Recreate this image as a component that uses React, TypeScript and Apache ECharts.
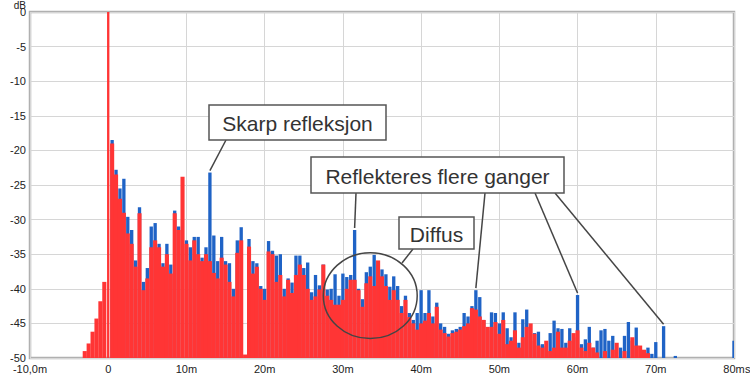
import React, { useEffect, useRef } from "react";
import * as echarts from "echarts";

// Time grid of the impulse response samples (ms)
const TIME_START_MS = -3.5;
const TIME_STEP_MS = 0.5;

// Red trace (dB), one value per TIME_STEP_MS from TIME_START_MS
const redDb: (number | null)[] = [
  null, -49, -47.9, -46.2, -44.3, -41.8, -39, 0, -19, -23.5,
  -27, -29, -32, -33.5, -36.8, -29.1, -40.2, -38.5, -34, -33,
  -34, -36.8, -35, -37.8, -29.1, -31.5, -23.8, -33.5, -35.9, -33,
  -35, -36, -35, -36, -37.7, -38.5, -35.5, -36.5, -39, -41.1,
  -34.8, -33, -49.5, -33.9, -37.8, -36.8, -40, -41.6, -34.6, -35,
  -39, -38, -41.1, -38.7, -40.6, -38, -36.5, -38, -40, -41.6,
  -41.1, -40.1, -36.5, -41, -41.6, -42.3, -42.3, -41.6, -40, -38.7,
  -38.7, -40.2, -42.6, -39.2, -38.2, -39.6, -35.9, -38.2, -39.6, -41.6,
  -40.2, -41.6, -43.5, -41.6, -44.1, -45, -45.9, -45, -44.6, -43.5,
  -45, -42.6, -45.9, -46.4, -46.9, -46.4, -46.2, -45.9, -45.4, -45,
  -42.8, -43, -44, -44.5, -45.5, -45.5, -44.8, -46.5, -44.5, -48,
  -47.5, -46, -48.5, -47, -45.5, -45, -46.5, -48.2, -48.5, -47.5,
  -49, -48.5, -46.2, -48.5, -48.5, -47.5, -46.4, -46, -48.5, -49,
  -47.8, -48.5, -49.2, null, -49, null, -48.8, -47.8, null, -49,
  null, -47, -48.2, -48.2, -48.8, -49.3, null,
];

// Blue trace (dB), same time grid
const blueDb: (number | null)[] = [
  null, null, null, null, null, null, null, null, -18.5, -22.8,
  -25.5, -24.1, -29.6, -31.5, -35.9, -28.2, -39, -37, -31, -30.5,
  -33.5, -36.3, -33.5, -36.5, -28.7, -31, null, -33, -34, -32.5,
  -32.5, -35.5, -34, -23.2, -32.3, -36, -32.5, -36, -36.3, -40,
  -33, -31.1, null, -32.8, -36, -36.3, -39.6, -40, -33.1, -34.5,
  -35.2, -35, -40, -38.5, -39.1, -35.2, -35.2, -37, -36.2, -40.5,
  -38, -39.5, -36.5, -40.1, -40, -37.9, -41, -37.8, -38.3, -38,
  -31.5, -40, -41.5, -37.6, -36.8, -35.1, -36.5, -37.2, -37.9, -39.7,
  -38.2, -39.6, -42.5, -41, -43.5, -44.5, -43.5, -40.2, -43.5, -40.2,
  -44, -42, -45, -45.5, -46.5, -46, -45.8, -45.5, -43.5, -44,
  -42.5, -40.2, -41.2, -44.5, -46, -43.4, -43.5, -45, -43.4, -45.7,
  -47, -43.4, -47.8, -44.4, -43, -47.5, -46.4, -46.2, -48, -48.3,
  -46.4, -44.6, -45.7, -45.8, -47.8, -45.7, -47, -40.9, -48, -47.3,
  -45.5, -48.5, -47.5, -46, -45.8, -47.5, -46.8, null, -48.5, -46.8,
  -44.8, -47.5, -45.6, null, -49, -48.5, -49.4, -47.7, null, -45.4,
  null, null, -49.7, null, null, null, null, null, null, null,
  null, null, null, null, null, null, null, -47.5,
];

const xTicksMs = [-10, 0, 10, 20, 30, 40, 50, 60, 70, 80];
const yTicksDb = [-50, -45, -40, -35, -30, -25, -20, -15, -10, -5, 0];
const xUnit = "s";
const yUnit = "dB";

const RED = "#ff3535";
const BLUE = "#1f63c6";
const FONT = "'Liberation Sans', Arial, sans-serif";

function toPairs(vals: (number | null)[]) {
  const out: [number, number][] = [];
  vals.forEach((v, i) => {
    if (v !== null) out.push([TIME_START_MS + i * TIME_STEP_MS, v]);
  });
  return out;
}

function barSeries(name: string, vals: (number | null)[], color: string, wf: number, z: number) {
  return {
    type: "custom",
    name,
    z,
    clip: true,
    data: toPairs(vals),
    encode: { x: 0, y: 1 },
    renderItem: (params: any, api: any) => {
      const t = api.value(0);
      const v = api.value(1);
      const top = api.coord([t, v]);
      const base = api.coord([t, yTicksDb[0]]);
      // the direct-sound peak is a single narrow spike
      const w = api.size([TIME_STEP_MS, 0])[0] * (v > -5 ? 0.6 : wf);
      return {
        type: "rect",
        shape: { x: top[0] - w / 2, y: top[1], width: w, height: base[1] - top[1] },
        style: { fill: color },
      };
    },
  };
}

export default function App() {
  const ref = useRef<HTMLDivElement>(null);
  useEffect(() => {
    const chart = echarts.init(ref.current!, null, { renderer: "svg" });
    chart.setOption({
      animation: false,
      backgroundColor: "#ffffff",
      grid: {
        left: 30,
        right: 16,
        top: 12,
        bottom: 17,
        outerBoundsMode: "none",
        containLabel: false,
        show: true,
        borderColor: "#b0b0b0",
        borderWidth: 2.5,
        backgroundColor: "transparent",
      },
      xAxis: {
        type: "value",
        min: xTicksMs[0],
        max: xTicksMs[xTicksMs.length - 1],
        interval: 10,
        position: "bottom",
        axisLine: { show: false, onZero: false },
        axisTick: { show: false },
        axisLabel: {
          color: "#222",
          fontSize: 11,
          fontFamily: FONT,
          margin: 5,
          formatter: (v: number) => (v === -10 ? "-10,0m" : v === 0 ? "0" : v + "m"),
        },
        splitLine: { show: true, lineStyle: { color: "#d6d6d6", width: 1 } },
      },
      yAxis: {
        type: "value",
        min: yTicksDb[0],
        max: yTicksDb[yTicksDb.length - 1],
        interval: 5,
        position: "left",
        axisLine: { show: false, onZero: false },
        axisTick: { show: false },
        axisLabel: { color: "#222", fontSize: 11, fontFamily: FONT, margin: 4 },
        splitLine: { show: true, lineStyle: { color: "#d6d6d6", width: 1 } },
      },
      series: [barSeries("blue", blueDb, BLUE, 0.85, 2), barSeries("red", redDb, RED, 1.05, 3)],
    });

    const px = (p: [number, number]) => chart.convertToPixel({ gridIndex: 0 }, p) as number[];
    const lineStyle = { stroke: "#454545", lineWidth: 1.5 };
    const leader = (x1: number, y1: number, target: [number, number]) => {
      const p = px(target);
      return { type: "line", z: 100, shape: { x1, y1, x2: p[0], y2: p[1] - 2 }, style: lineStyle };
    };
    const box = (x: number, y: number, w: number, h: number, text: string) => [
      { type: "rect", z: 100, shape: { x, y, width: w, height: h }, style: { fill: "#fff", stroke: "#555", lineWidth: 1.5 } },
      {
        type: "text",
        z: 101,
        style: {
          text,
          x: x + w / 2,
          y: y + h / 2 + 1,
          fontSize: 21,
          fontFamily: FONT,
          fill: "#333",
          align: "center",
          verticalAlign: "middle",
        },
      },
    ];
    const ec = px([33.5, -41]);
    const ee = px([39.5, -34.8]);
    const topLeft = px([xTicksMs[0], yTicksDb[yTicksDb.length - 1]]);
    const bottomRight = px([xTicksMs[xTicksMs.length - 1], yTicksDb[0]]);
    chart.setOption({
      graphic: [
        {
          type: "text",
          z: 101,
          style: { text: yUnit, x: topLeft[0] - 4, y: topLeft[1] - 7, fontSize: 10, fontFamily: FONT, fill: "#222", align: "right", verticalAlign: "middle" },
        },
        {
          type: "text",
          z: 101,
          style: { text: xUnit, x: bottomRight[0] + 11, y: bottomRight[1] + 11, fontSize: 11, fontFamily: FONT, fill: "#222", align: "left", verticalAlign: "middle" },
        },
        leader(226, 140, [13, -23.2]),
        ...box(209, 105, 177, 35, "Skarp refleksjon"),
        {
          type: "ellipse",
          z: 99,
          shape: { cx: ec[0], cy: ec[1], rx: ee[0] - ec[0], ry: ec[1] - ee[1] },
          style: { fill: "none", stroke: "#454545", lineWidth: 1.5 },
        },
        { type: "line", z: 100, shape: { x1: 413, y1: 249, x2: 402, y2: 263 }, style: lineStyle },
        ...box(399, 217, 75, 32, "Diffus"),
        leader(356, 193, [31.5, -31.5]),
        leader(485, 193, [47, -40.2]),
        leader(535, 193, [60, -40.9]),
        leader(555, 193, [71, -45.4]),
        ...box(311, 157, 253, 36, "Reflekteres flere ganger"),
      ],
    });
    return () => chart.dispose();
  }, []);
  return <div ref={ref} style={{ position: "fixed", left: 0, top: 0, width: 750, height: 375 }} />;
}
